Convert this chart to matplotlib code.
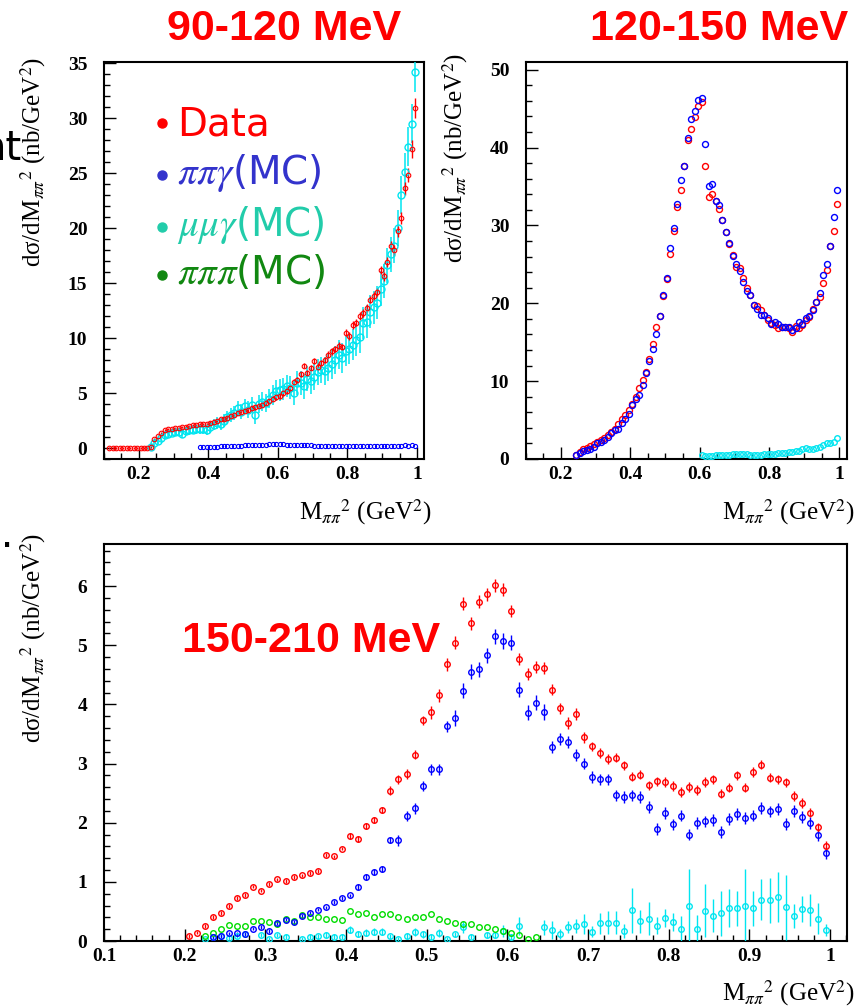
import numpy as np
import matplotlib.pyplot as plt
from matplotlib.ticker import MultipleLocator, FuncFormatter

W, H = 863, 1008

# ---------------- 90-120 MeV (top left) ----------------
tl_data = [0, 0, 0, 0, 0, 0, 0, 0, 0, 0, 0, 0,
           0.1, 0.8, 1.1, 1.4, 1.6, 1.7, 1.75, 1.8, 1.85, 1.9, 1.95, 2.0, 2.05, 2.1, 2.15, 2.2, 2.2,
           2.3, 2.4, 2.5, 2.6, 2.65, 2.75, 2.9, 3.0, 3.15, 3.3,
           3.4, 3.5, 3.6, 3.7, 3.8, 3.9, 4.1, 4.3, 4.5, 4.6,
           4.7, 5.0, 5.2, 5.5, 6.0, 6.2, 6.7, 7.5, 6.8, 7.3,
           7.9, 7.4, 7.7, 8.0, 8.5, 8.8, 9.0, 9.3, 9.2, 10.5,
           10.2, 11.2, 11.4, 12.0, 12.3, 12.7, 13.5, 13.8, 14.2, 16.2,
           15.6, 16.9, 18.4, 18.0, 19.7, 20.9, 23.6, 24.8, 27.2, 30.9]
tl_data_err = [0.05] * 12 + [0.1] * 17 + [0.15] * 10 + [0.2] * 10 + [0.25] * 10 + \
              [0.3] * 10 + [0.35] * 10 + [0.4, 0.45, 0.45, 0.5, 0.5, 0.55, 0.6, 0.65, 0.8, 0.9]
tl_mumu = [0.05, 0.45, 0.65, 0.9, 1.15, 1.3, 1.4, 1.5, 1.5, 1.3, 1.55, 1.6, 1.65, 1.7, 1.7, 1.75, 1.6,
           1.9, 2.1, 2.3, 2.2, 2.5, 2.8, 3.0, 3.2, 3.6, 3.3,
           3.8, 3.5, 3.9, 3.0, 4.0, 4.2, 4.1, 4.5, 4.8, 5.2,
           5.3, 5.4, 5.6, 5.5, 5.0, 5.9, 5.9, 5.6, 6.3, 6.1,
           6.5, 6.9, 7.1, 7.0, 7.3, 7.6, 8.0, 8.5, 8.2, 8.8,
           9.0, 9.4, 9.8, 10.1, 11.4, 11.5, 12.4, 12.8, 13.2, 14.5,
           15.2, 16.6, 17.6, 18.4, 20.0, 23.0, 25.1, 27.4, 29.5, 34.2]
tl_mumu_err = [0.2, 0.3, 0.3, 0.3, 0.3, 0.3, 0.3, 0.35, 0.35, 0.35, 0.4, 0.4, 0.4, 0.4, 0.45, 0.45, 0.45,
               0.5, 0.5, 0.55, 0.55, 0.6, 0.6, 0.6, 0.65, 0.65, 0.7,
               0.7, 0.75, 0.75, 0.8, 0.8, 0.85, 0.85, 0.9, 0.9, 0.95,
               1.0, 1.0, 1.0, 1.05, 1.05, 1.1, 1.1, 1.1, 1.15, 1.15,
               1.2, 1.2, 1.2, 1.25, 1.25, 1.3, 1.3, 1.3, 1.35, 1.35,
               1.4, 1.4, 1.4, 1.45, 1.45, 1.5, 1.5, 1.5, 1.5, 1.55,
               1.55, 1.6, 1.6, 1.6, 1.65, 1.7, 1.7, 1.75, 1.8, 1.8]
tl_pipi = [0.05, 0.05, 0.05, 0.1, 0.1, 0.1, 0.15, 0.15, 0.15, 0.2,
           0.2, 0.2, 0.2, 0.25, 0.25, 0.25, 0.25, 0.3, 0.3, 0.3,
           0.35, 0.35, 0.4, 0.4, 0.35, 0.3, 0.3, 0.3, 0.25, 0.25,
           0.25, 0.25, 0.25, 0.2, 0.2, 0.2, 0.2, 0.2, 0.2, 0.2,
           0.2, 0.15, 0.15, 0.2, 0.2, 0.2, 0.15, 0.15, 0.2, 0.2,
           0.15, 0.15, 0.15, 0.2, 0.2, 0.15, 0.15, 0.2, 0.2, 0.25,
           0.2, 0.25, 0.2]

# ---------------- 120-150 MeV (top right) ----------------
tr_data = [0.5, 0.9, 1.3, 1.4, 1.7, 1.9, 2.2, 2.4, 2.7, 3.1,
           3.5, 3.8, 4.5, 5.2, 5.6, 6.3, 7.1, 8.0, 9.1, 10.2,
           11.2, 12.8, 14.8, 17.0, 18.4, 20.9, 23.1, 26.3, 29.3, 32.4,
           34.6, 37.7, 41.0, 42.4, 43.9, 45.3, 45.9, 37.6, 33.7, 34.1,
           33.1, 32.1, 30.7, 29.1, 27.6, 26.2, 24.7, 24.6, 23.2, 22.0,
           21.1, 19.8, 19.6, 19.1, 18.5, 17.8, 17.5, 17.2, 16.8, 16.9,
           17.0, 16.8, 16.3, 17.1, 16.8, 17.2, 17.8, 18.3, 19.3, 20.2,
           20.8, 22.6, 24.3, 27.4, 29.3, 32.7]
tr_pipi = [0.47, 0.8, 1.0, 1.2, 1.3, 1.6, 2.0, 2.2, 2.5, 2.8,
           3.3, 3.7, 3.9, 4.6, 5.2, 5.8, 6.9, 7.7, 8.2, 9.5,
           11.1, 12.6, 14.1, 16.0, 18.4, 21.1, 23.3, 27.1, 29.7, 32.8,
           35.9, 37.7, 41.2, 43.7, 44.7, 46.1, 46.4, 40.5, 35.1, 35.3,
           33.1, 32.6, 30.7, 29.1, 27.7, 26.1, 25.1, 24.2, 22.8, 21.6,
           21.1, 19.8, 19.3, 18.5, 18.5, 18.1, 17.4, 17.6, 17.4, 17.0,
           17.0, 16.9, 16.6, 16.8, 17.6, 17.4, 18.1, 18.4, 19.2, 20.2,
           21.3, 23.7, 25.0, 27.4, 31.1, 34.6]
tr_mumu = [0.45, 0.40, 0.35, 0.40, 0.45, 0.45, 0.50, 0.50, 0.55, 0.70,
           0.70, 0.65, 0.70, 0.65, 0.45, 0.45, 0.50, 0.55, 0.60, 0.65,
           0.65, 0.70, 0.75, 0.80, 0.80, 0.90, 0.95, 1.05, 1.00, 1.25,
           1.35, 1.25, 1.30, 1.45, 1.55, 1.80, 2.00, 2.05, 2.20, 2.75]

# ---------------- 150-210 MeV (bottom) ----------------
bt_data = [0.08, 0.14, 0.25, 0.41, 0.47, 0.59, 0.73, 0.78, 0.92, 0.85,
           0.96, 1.04, 1.01, 1.08, 1.11, 1.15, 1.18, 1.45, 1.43, 1.56,
           1.77, 1.72, 1.95, 2.04, 2.22, 2.54, 2.73, 2.82, 3.15, 3.73,
           3.87, 4.15, 4.68, 5.04, 5.70, 5.37, 5.73, 5.86, 6.01, 5.94,
           5.58, 4.77, 4.51, 4.63, 4.61, 4.25, 3.93, 3.69, 3.84, 3.44,
           3.29, 3.18, 3.08, 3.10, 2.97, 2.78, 2.81, 2.63, 2.70, 2.69,
           2.62, 2.52, 2.60, 2.55, 2.69, 2.73, 2.49, 2.59, 2.80, 2.59,
           2.86, 2.98, 2.76, 2.73, 2.68, 2.45, 2.33, 2.17, 1.92, 1.61]
bt_data_err = [0.03] * 20 + [0.05] * 5 + [0.08] * 5 + [0.11] * 10 + [0.1] * 10 + [0.08] * 30
bt_pipi = [0.06, 0.08, 0.13, 0.13, 0.12, 0.21, 0.24, 0.17, 0.30, 0.36,
           0.32, 0.42, 0.47, 0.53, 0.57, 0.66, 0.73, 0.77, 0.91, 1.08,
           1.17, 1.22, 1.71, 1.70, 2.11, 2.24, 2.62, 2.90, 2.90, 3.63,
           3.77, 4.23, 4.55, 4.59, 4.83, 5.15, 5.07, 5.04, 4.25, 3.86,
           4.03, 3.87, 3.28, 3.42, 3.37, 3.15, 3.00, 2.77, 2.73, 2.73,
           2.46, 2.43, 2.46, 2.43, 2.26, 1.90, 2.16, 1.97, 2.12, 1.80,
           2.00, 2.02, 2.04, 1.84, 2.06, 2.15, 2.08, 2.12, 2.25, 2.19,
           2.23, 1.98, 2.20, 2.10, 2.00, 1.79, 1.49]
bt_pipi_err = [0.03] * 18 + [0.05] * 5 + [0.09] * 7 + [0.13] * 12 + [0.1] * 35
bt_pipipi = [0.09, 0.14, 0.20, 0.27, 0.26, 0.26, 0.34, 0.34, 0.32, 0.29,
             0.37, 0.34, 0.44, 0.41, 0.41, 0.38, 0.38, 0.35, 0.51, 0.45,
             0.48, 0.41, 0.45, 0.45, 0.40, 0.37, 0.40, 0.41, 0.45, 0.37,
             0.33, 0.31, 0.29, 0.28, 0.23, 0.23, 0.20, 0.17, 0.14, 0.10,
             0.03, 0.07]
nan = float('nan')
bt_mumu = [0.03, 0.06, 0.09, 0.05, 0.08, 0.12, nan, 0.10, 0.03, 0.10,
           0.07, nan, 0.03, 0.07, 0.08, 0.10, 0.07, 0.07, 0.19, 0.12,
           0.14, 0.16, 0.16, 0.08, 0.03, 0.08, 0.15, 0.11, 0.06, 0.14,
           0.03, 0.11, 0.24, 0.07, nan, 0.10, 0.10, 0.17, 0.07, 0.25,
           nan, nan, 0.23, 0.19, 0.12, 0.23, 0.26, 0.28, 0.16, 0.30,
           0.31, 0.31, 0.17, 0.52, 0.33, 0.38, 0.26, 0.39, 0.32, 0.21,
           0.59, 0.21, 0.51, 0.43, 0.47, 0.56, 0.55, 0.60, 0.55, 0.70,
           0.69, 0.74, 0.57, 0.42, 0.54, 0.53, 0.38, 0.19]
bt_mumu_err = [0.02, 0.03, 0.03, 0.03, 0.03, 0.04, 0, 0.04, 0.03, 0.04,
               0.04, 0, 0.03, 0.04, 0.04, 0.05, 0.04, 0.04, 0.06, 0.05,
               0.06, 0.06, 0.06, 0.04, 0.03, 0.05, 0.07, 0.06, 0.05, 0.07,
               0.03, 0.05, 0.10, 0.04, 0, 0.05, 0.05, 0.10, 0.05, 0.15,
               0, 0, 0.13, 0.15, 0.08, 0.10, 0.12, 0.17, 0.10, 0.18,
               0.20, 0.20, 0.12, 0.38, 0.20, 0.28, 0.15, 0.15, 0.15, 0.22,
               0.63, 0.23, 0.45, 0.28, 0.38, 0.32, 0.30, 0.62, 0.30, 0.35,
               0.38, 0.42, 0.55, 0.20, 0.22, 0.27, 0.26, 0.10]

RED, BLUE, CYAN, GREEN = '#ff0000', '#0000ff', '#00e5f0', '#00dd00'


def bins(start, vals):
    # bin centres, 0.01 GeV^2 wide
    return start + 0.01 * np.arange(len(vals))


def fx(x):
    return x / W


def fy(y):
    return 1 - y / H


plt.rcParams['mathtext.fontset'] = 'stix'
fig = plt.figure(figsize=(W / 100, H / 100), dpi=100)

ax1 = fig.add_axes([fx(104), fy(459), 320 / W, 397 / H])
ax2 = fig.add_axes([fx(526), fy(459), 321 / W, 397 / H])
ax3 = fig.add_axes([fx(104), fy(941), 743 / W, 397 / H])


def pts(ax, x, y, err, col, ms, mew=0.9, elw=1.0, z=3):
    ax.errorbar(x, y, yerr=err, fmt='o', mfc='none', mec=col, ecolor=col,
                ms=ms, mew=mew, elinewidth=elw, capsize=0, zorder=z)


# top left
pts(ax1, bins(0.375, tl_pipi), tl_pipi, None, BLUE, 3.0, 0.8)
pts(ax1, bins(0.235, tl_mumu), tl_mumu, tl_mumu_err, CYAN, 5.0, 1.0, 1.1)
pts(ax1, bins(0.115, tl_data), tl_data, tl_data_err, RED, 3.3, 0.8)
ax1.set_xlim(0.1, 1.02)
ax1.set_ylim(-1, 35.1)
ax1.xaxis.set_major_locator(MultipleLocator(0.2))
ax1.xaxis.set_minor_locator(MultipleLocator(0.05))
ax1.yaxis.set_major_locator(MultipleLocator(5))
ax1.yaxis.set_minor_locator(MultipleLocator(1))

# top right
pts(ax2, bins(0.605, tr_mumu), tr_mumu, None, CYAN, 4.0, 1.0)
pts(ax2, bins(0.245, tr_data), tr_data, None, RED, 4.3, 1.0)
pts(ax2, bins(0.245, tr_pipi), tr_pipi, None, BLUE, 4.3, 1.0)
ax2.set_xlim(0.1, 1.023)
ax2.set_ylim(0, 51)
ax2.xaxis.set_major_locator(MultipleLocator(0.2))
ax2.xaxis.set_minor_locator(MultipleLocator(0.05))
ax2.yaxis.set_major_locator(MultipleLocator(10))
ax2.yaxis.set_minor_locator(MultipleLocator(2))

# bottom
pts(ax3, bins(0.225, bt_mumu), bt_mumu, bt_mumu_err, CYAN, 4.0, 1.0)
pts(ax3, bins(0.225, bt_pipipi), bt_pipipi, None, GREEN, 4.0, 1.0)
pts(ax3, bins(0.235, bt_pipi), bt_pipi, bt_pipi_err, BLUE, 4.0, 1.0)
pts(ax3, bins(0.205, bt_data), bt_data, bt_data_err, RED, 4.0, 1.0)
ax3.set_xlim(0.1, 1.021)
ax3.set_ylim(0, 6.71)
ax3.xaxis.set_major_locator(MultipleLocator(0.1))
ax3.xaxis.set_minor_locator(MultipleLocator(0.02))
ax3.yaxis.set_major_locator(MultipleLocator(1))
ax3.yaxis.set_minor_locator(MultipleLocator(0.2))

fmt = FuncFormatter(lambda v, p: f'{v:g}')
for ax in (ax1, ax2, ax3):
    ax.xaxis.set_major_formatter(fmt)
    ax.yaxis.set_major_formatter(fmt)
    ax.tick_params(which='both', direction='in', top=False, right=False, width=1.0)
    ax.tick_params(which='major', length=8.5)
    ax.tick_params(which='minor', length=4.3)
    ax.tick_params(axis='y', pad=12)
    ax.tick_params(axis='x', pad=5)
    for lab in ax.get_xticklabels() + ax.get_yticklabels():
        lab.set_fontfamily('Liberation Serif')
        lab.set_fontweight('bold')
        lab.set_fontsize(14)
    for s in ax.spines.values():
        s.set_linewidth(1.5)

# axis titles
ylab = 'dσ/dM$_{\\pi\\pi}$$^{2}$ (nb/GeV$^{2}$)'
xlab = 'M$_{\\pi\\pi}$$^{2}$ (GeV$^{2}$)'
serif = dict(family='Liberation Serif', fontsize=18)
fig.text(fx(33), fy(57), ylab, rotation=90, ha='center', va='top', **serif)
fig.text(fx(455), fy(53), ylab, rotation=90, ha='center', va='top', **serif)
fig.text(fx(33), fy(533), ylab, rotation=90, ha='center', va='top', **serif)
fig.text(fx(432), fy(519), xlab, ha='right', va='baseline', **serif)
fig.text(fx(855), fy(519), xlab, ha='right', va='baseline', **serif)
fig.text(fx(855), fy(1000), xlab, ha='right', va='baseline', **serif)

# energy ranges
big = dict(family='Liberation Sans', fontweight='bold', fontsize=31, color=RED)
fig.text(fx(284), fy(40), '90-120 MeV', ha='center', va='baseline', **big)
fig.text(fx(719), fy(40), '120-150 MeV', ha='center', va='baseline', **big)
fig.text(fx(182), fy(652), '150-210 MeV', ha='left', va='baseline', **big)

# hand-made legend
leg_text = ['Data', '$\\pi\\pi\\gamma$(MC)', '$\\mu\\mu\\gamma$(MC)', '$\\pi\\pi\\pi$(MC)']
leg_col = ['#ff0000', '#3333cc', '#22ccaa', '#118811']
leg_y = [136, 184, 236, 284]
leg_dot = [123, 175, 227, 275]
for t, c, yb, yd in zip(leg_text, leg_col, leg_y, leg_dot):
    fig.text(fx(177), fy(yb), t, color=c, family='DejaVu Sans', fontsize=28, va='baseline')
    fig.add_artist(plt.Line2D([fx(162)], [fy(yd)], marker='o', ms=6.5, color=c,
                              transform=fig.transFigure))

# slide text cut off at the left edge
fig.text(fx(22), fy(160), 'nt', ha='right', va='baseline', family='DejaVu Sans', fontsize=29)
fig.text(fx(14), fy(548), 'e.', ha='right', va='baseline', family='DejaVu Sans', fontsize=29)

fig.savefig('out.png', dpi=100)
